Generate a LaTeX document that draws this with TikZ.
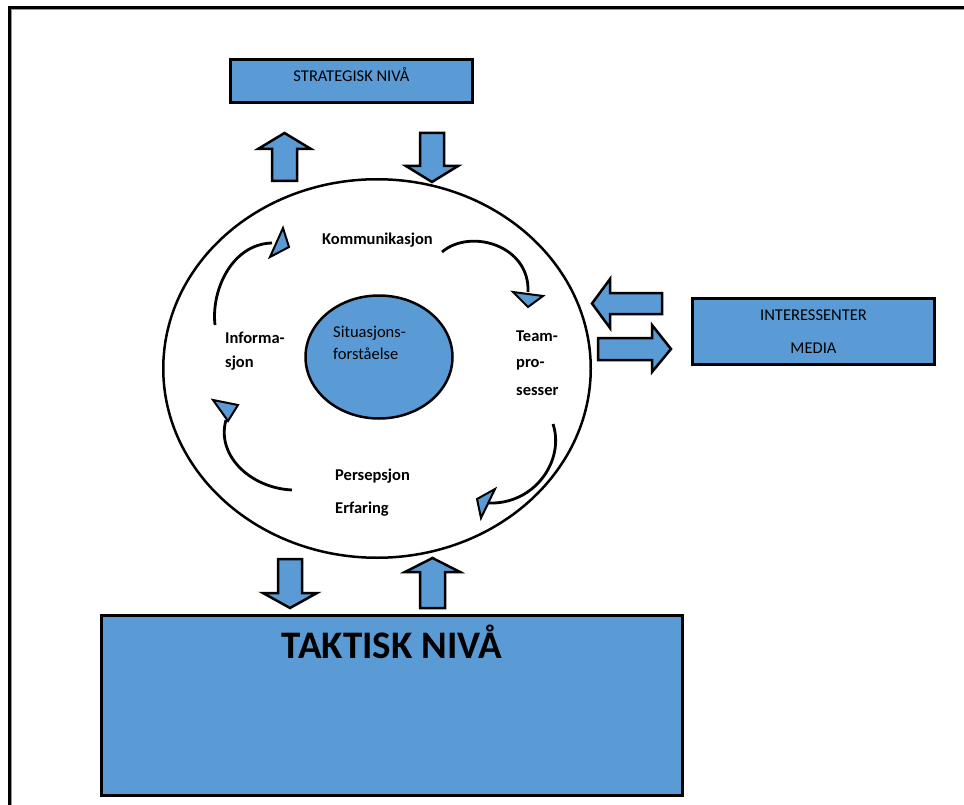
\documentclass[tikz,border=0pt]{standalone}
\usepackage{fontspec}
\setmainfont{Carlito}
\usetikzlibrary{shapes.geometric}
\definecolor{levelblue}{RGB}{91,155,213}
\definecolor{framegrey}{RGB}{150,150,150}

\begin{document}
\begin{tikzpicture}[x=1pt,y=-1pt,
  levelbox/.style={draw=black,line width=3pt,fill=levelblue,rectangle,inner sep=0pt},
  blockarrow/.style={draw=black,line width=2.5pt,fill=levelblue,line join=miter},
  cyclearc/.style={draw=black,line width=2.8pt},
  arrowtip/.style={draw=black,line width=2pt,fill=levelblue,line join=miter},
  smalltext/.style={inner sep=0pt,anchor=base west,font=\fontsize{16.5}{20}\selectfont},
  labeltext/.style={inner sep=0pt,anchor=base west,font=\fontsize{16.5}{20}\selectfont\bfseries},
  boxtext/.style={inner sep=0pt,anchor=base,font=\fontsize{16.5}{20}\selectfont},
]
\useasboundingbox (0,0) rectangle (964,805);

% page frame
\draw[framegrey,line width=1pt] (11.5,805) -- (11.5,10) -- (964,10);
\draw[line width=3pt] (9.5,805) -- (9.5,7.5) -- (964,7.5);

% levels
\node[levelbox,minimum width=242pt,minimum height=43pt] (strat) at (351.5,81) {};
\node[boxtext] (strattxt) at (351.5,82) {STRATEGISK NIVÅ};

\node[levelbox,minimum width=242pt,minimum height=66pt] (inter) at (813.5,331.5) {};
\node[boxtext] (intertxt) at (813.5,320) {INTERESSENTER};
\node[boxtext] (mediatxt) at (813.5,353) {MEDIA};

\node[levelbox,minimum width=581pt,minimum height=180pt] (takt) at (392,705.5) {};
\node[inner sep=0pt,anchor=base,font=\fontsize{39}{44}\selectfont\bfseries] (takttxt) at (392,658) {TAKTISK NIVÅ};

% situational awareness cycle
\node[ellipse,draw=black,line width=2.5pt,minimum width=427.5pt,minimum height=378.5pt,inner sep=0pt] (cycle) at (377,368.5) {};
\node[ellipse,draw=black,line width=2.5pt,fill=levelblue,minimum width=147pt,minimum height=123pt,inner sep=0pt] (core) at (379,357) {};
\node[smalltext] (coretxt1) at (333,337) {Situasjons-};
\node[smalltext] (coretxt2) at (333,359) {forståelse};

\node[labeltext] (komm) at (322,245) {Kommunikasjon};
\node[labeltext] (team1) at (516,341) {Team-};
\node[labeltext] (team2) at (516,367) {pro-};
\node[labeltext] (team3) at (516,395) {sesser};
\node[labeltext] (pers) at (335,480) {Persepsjon};
\node[labeltext] (erf) at (335,513) {Erfaring};
\node[labeltext] (info1) at (225,343) {Informa-};
\node[labeltext] (info2) at (225,367) {sjon};

% curved arrows of the cycle
\coordinate (a1s) at (215,325);
\coordinate (a1e) at (272,243);
\draw[cyclearc] (a1s) .. controls (211,290) and (232,244) .. (a1e);
\draw[arrowtip] (283,228) -- (289,247) -- (270,257) -- cycle;

\coordinate (a2s) at (442,252);
\coordinate (a2e) at (528,292);
\draw[cyclearc] (a2s) .. controls (470,228) and (530,245) .. (a2e);
\draw[arrowtip] (513,292) -- (543,296) -- (528,307) -- cycle;

\coordinate (a3s) at (553,424);
\coordinate (a3e) at (488,503);
\draw[cyclearc] (a3s) .. controls (565,460) and (535,505) .. (a3e);
\draw[arrowtip] (495,489) -- (477,499) -- (481,518) -- cycle;

\coordinate (a4s) at (292,490);
\coordinate (a4e) at (226,420);
\draw[cyclearc] (a4s) .. controls (250,488) and (216,455) .. (a4e);
\draw[arrowtip] (213,400) -- (238,405) -- (228,421) -- cycle;

% exchange with strategic level
\draw[blockarrow] (272,181) -- (272,149) -- (258,149) -- (284.5,133) -- (311,149) -- (297,149) -- (297,181) -- cycle;
\draw[blockarrow] (420,133) -- (444,133) -- (444,166) -- (458,166) -- (432,182) -- (406,166) -- (420,166) -- cycle;

% exchange with stakeholders and media
\draw[blockarrow] (662,293) -- (610,293) -- (610,279) -- (592,303.5) -- (610,328) -- (610,314) -- (662,314) -- cycle;
\draw[blockarrow] (598,338) -- (652,338) -- (652,325) -- (671,349) -- (652,372) -- (652,360) -- (598,360) -- cycle;

% exchange with tactical level
\draw[blockarrow] (278,559) -- (302,559) -- (302,593) -- (317,593) -- (290,608) -- (263,593) -- (278,593) -- cycle;
\draw[blockarrow] (420,608) -- (420,572) -- (405,572) -- (432.5,558) -- (460,572) -- (445,572) -- (445,608) -- cycle;
\end{tikzpicture}
\end{document}
